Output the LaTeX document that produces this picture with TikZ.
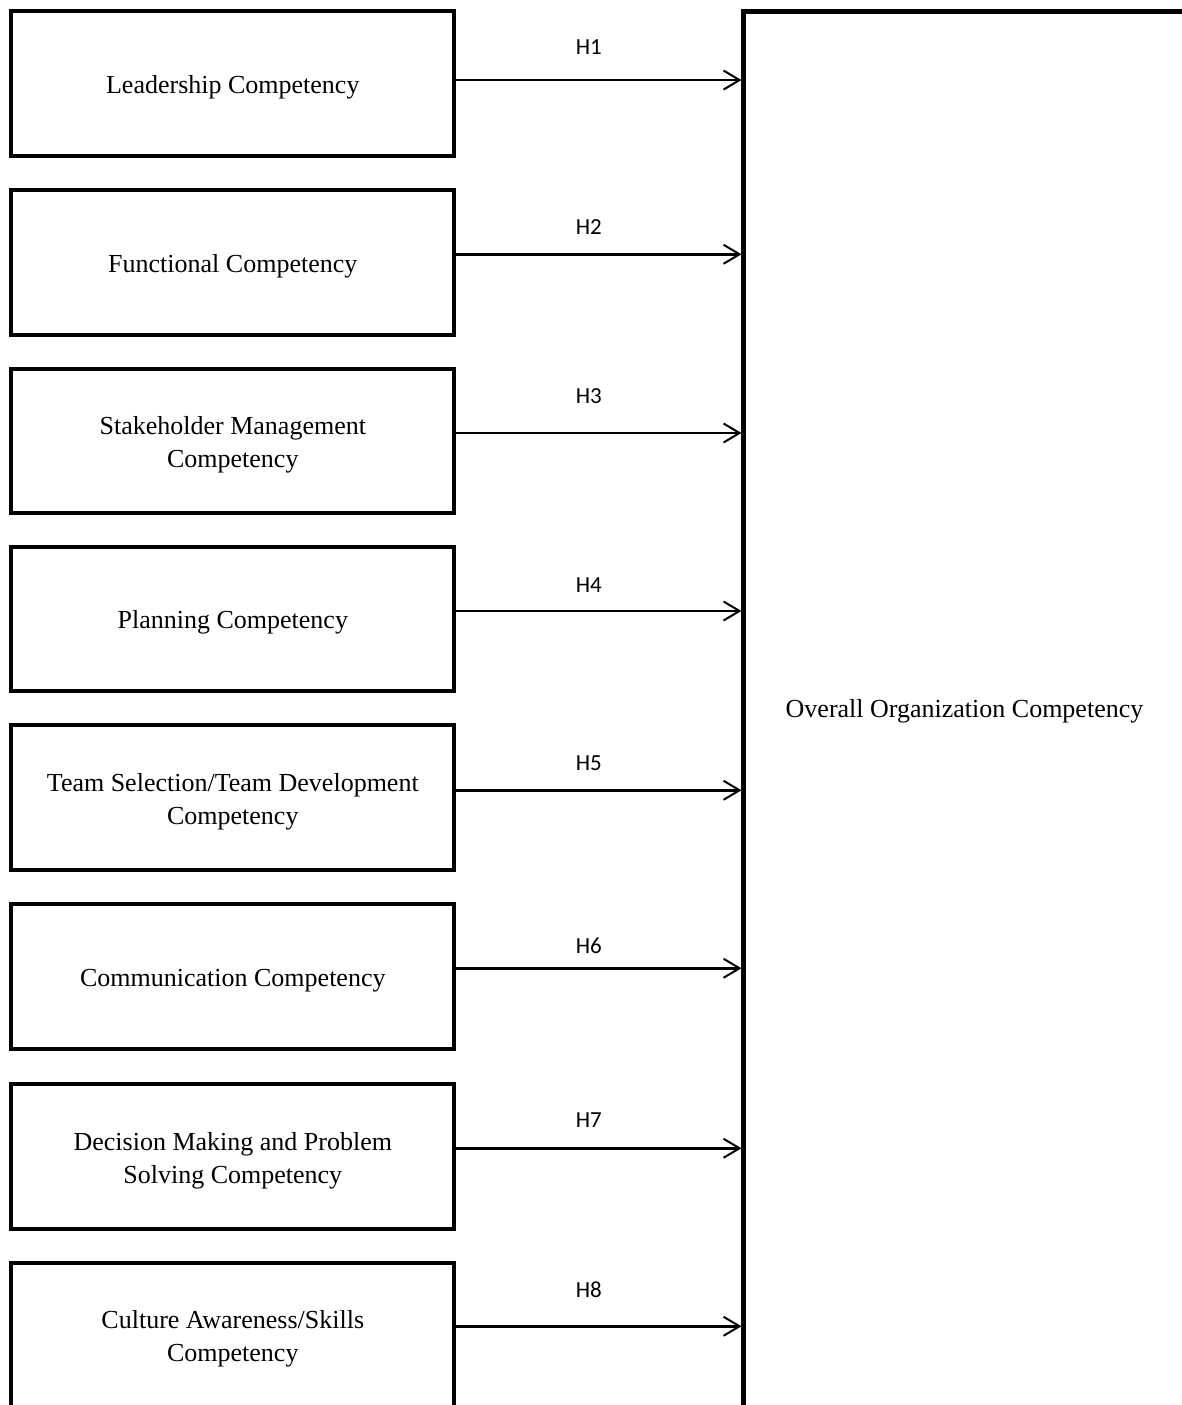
\documentclass[tikz,border=0pt]{standalone}
\usepackage{fontspec}
\setmainfont{Liberation Serif}
\newfontfamily\hfont{Carlito}
\usetikzlibrary{arrows.meta,calc}
\begin{document}
\begin{tikzpicture}[x=1pt,y=-1pt,
  cbox/.style={draw, line width=4pt, minimum width=443pt, minimum height=144.5pt,
    inner sep=0pt, outer sep=0pt, anchor=north west},
  ctext/.style={align=center, inner sep=0pt, font=\fontsize{26}{33}\selectfont},
  bigbox/.style={draw, line width=4.5pt, minimum width=442pt, minimum height=1398pt,
    inner sep=0pt, outer sep=0pt, anchor=north west},
  link/.style={line width=2.5pt, shorten >=2pt, -{Straight Barb[length=16pt,width=19pt,line width=2pt]}},
  hlab/.style={font=\hfont\fontsize{23}{27}\selectfont, inner sep=0pt}]
\useasboundingbox (0,0) rectangle (1182,1405);
\clip (0,0) rectangle (1182,1405);
\node[bigbox] (big) at (743.5,11.3) {};
\node[ctext] (tbig) at ([yshift=-1pt]big.center) {Overall Organization Competency};
\node[cbox] (b1) at (11.3,11.3) {};
\node[cbox] (b2) at (11.3,190) {};
\node[cbox] (b3) at (11.3,368.5) {};
\node[cbox] (b4) at (11.3,546.5) {};
\node[cbox] (b5) at (11.3,725) {};
\node[cbox] (b6) at (11.3,904) {};
\node[cbox] (b7) at (11.3,1084) {};
\node[cbox] (b8) at (11.3,1262.5) {};
\node[ctext] (t1) at ([yshift=-4pt]b1.center) {Leadership Competency};
\node[ctext] (t2) at ([yshift=-4pt]b2.center) {Functional Competency};
\node[ctext] (t3) at ([yshift=-4.5pt]b3.center) {Stakeholder Management\\Competency};
\node[ctext] (t4) at ([yshift=-4pt]b4.center) {Planning Competency};
\node[ctext] (t5) at ([yshift=-4.5pt]b5.center) {Team Selection/Team Development\\Competency};
\node[ctext] (t6) at ([yshift=-4pt]b6.center) {Communication Competency};
\node[ctext] (t7) at ([yshift=-4.5pt]b7.center) {Decision Making and Problem\\Solving Competency};
\node[ctext] (t8) at ([yshift=-4.5pt]b8.center) {Culture Awareness/Skills\\Competency};
\foreach \i/\h/\s/\l in {1/H1/3.5/33,2/H2/8/27,3/H3/7.75/37,4/H4/7.75/26,5/H5/7/27,6/H6/8/22,7/H7/8/28,8/H8/8.5/37}
  \draw[link] ([yshift=\s pt]b\i.east) -- ([yshift=\s pt]b\i.east -| big.west)
    node[hlab, pos=0.465, yshift=\l pt] {\h};
\end{tikzpicture}
\end{document}
